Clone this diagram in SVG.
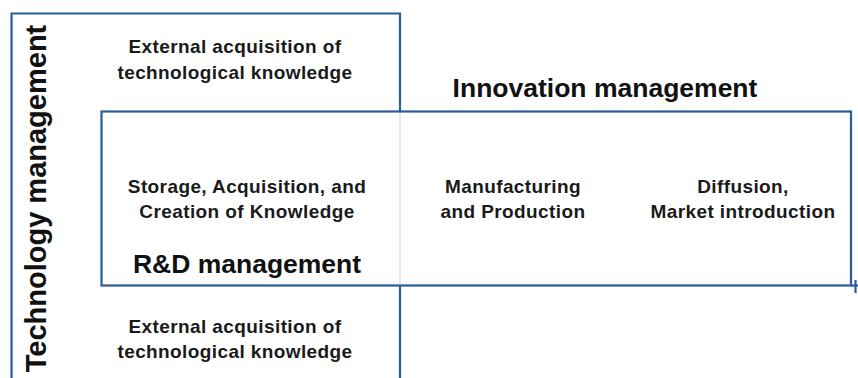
<svg xmlns="http://www.w3.org/2000/svg" width="858" height="378" viewBox="0 0 858 378">
<style>
.frame{fill:none;stroke:#2b5b98;stroke-width:2.2}
.faint{fill:none;stroke:#e6ebf3;stroke-width:2}
.lbl{font-family:"Liberation Sans",Arial,Helvetica,sans-serif;font-weight:bold;font-size:19px;letter-spacing:0.4px;fill:#1a1a1a;text-anchor:middle}
.ttl{font-family:"Liberation Sans",Arial,Helvetica,sans-serif;font-weight:bold;font-size:26.5px;fill:#111;text-anchor:middle}
</style>
<rect width="858" height="378" fill="#fff"/>
<g id="technology-management">
  <path class="frame" d="M11.5,380 V13.5 H400 V111"/>
  <path class="frame" d="M400,286 V380"/>
  <path class="faint" d="M400,113 V284"/>
  <text class="ttl" transform="translate(46,198.5) rotate(-90)" style="font-size:29px">Technology management</text>
</g>
<g id="ext-top">
  <text class="lbl" x="235" y="53">External acquisition of</text>
  <text class="lbl" x="235" y="79">technological knowledge</text>
</g>
<g id="ext-bottom">
  <text class="lbl" x="235" y="333">External acquisition of</text>
  <text class="lbl" x="235" y="358">technological knowledge</text>
</g>
<g id="innovation-management">
  <rect class="frame" x="101.5" y="111.5" width="749.5" height="174"/>
  <text class="ttl" x="605" y="97">Innovation management</text>
</g>
<g id="rd-management">
  <text class="ttl" x="247" y="273">R&amp;D management</text>
</g>
<g id="storage">
  <text class="lbl" x="247" y="193">Storage, Acquisition, and</text>
  <text class="lbl" x="247" y="218">Creation of Knowledge</text>
</g>
<g id="manufacturing">
  <text class="lbl" x="513" y="193">Manufacturing</text>
  <text class="lbl" x="513" y="218">and Production</text>
</g>
<g id="diffusion">
  <text class="lbl" x="743" y="193">Diffusion,</text>
  <text class="lbl" x="743" y="218">Market introduction</text>
</g>
<g id="connectors">
  <path class="frame" d="M851,285.5 H858"/>
  <path class="frame" d="M855.5,280 V293"/>
</g>
</svg>
